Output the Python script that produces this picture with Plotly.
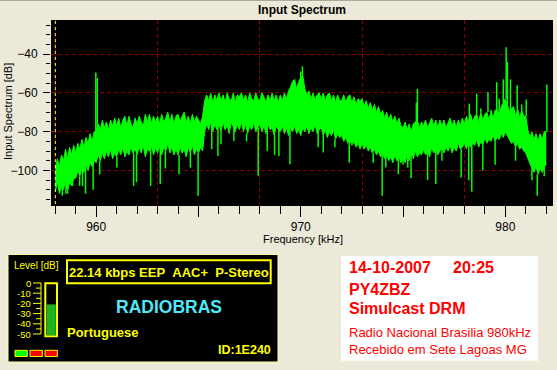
import plotly.graph_objects as go

# ---------------- data ----------------
freq_start_khz = 958.0
step_khz = 0.1

# upper edge of the spectrum band, every 0.1 kHz from 958.0 to 982.0 kHz
upper_db = [
    -99, -94, -98, -92, -95, -89, -94, -88, -92, -87,   # 958
    -91, -86, -89, -84, -88, -83, -86, -81, -85, -80,   # 959
    -80, -76, -79, -74, -78, -75, -79, -74, -77, -73,   # 960
    -77, -73, -78, -74, -72, -77, -72, -76, -78, -73,   # 961
    -76, -72, -75, -77, -71, -75, -71, -76, -72, -75,   # 962
    -72, -76, -71, -75, -73, -70, -75, -71, -76, -72,   # 963
    -71, -75, -72, -70, -75, -72, -76, -71, -75, -72,   # 964
    -74, -76, -72, -64, -61, -64, -60, -65, -61, -64,   # 965
    -60, -64, -61, -65, -60, -63, -64, -60, -65, -61,   # 966
    -62, -60, -64, -61, -65, -60, -63, -64, -60, -63,   # 967
    -64, -60, -62, -65, -61, -64, -60, -64, -61, -65,   # 968
    -61, -64, -60, -63, -59, -57, -54, -53, -58, -54,   # 969
    -52, -51, -58, -61, -59, -63, -60, -64, -61, -60,   # 970
    -63, -60, -64, -61, -60, -64, -61, -65, -61, -64,   # 971
    -64, -61, -65, -62, -61, -65, -62, -66, -63, -64,   # 972
    -63, -67, -64, -68, -65, -69, -66, -70, -67, -71,   # 973
    -69, -73, -70, -74, -71, -75, -72, -76, -73, -77,   # 974
    -78, -75, -79, -76, -80, -76, -75, -74, -78, -75,   # 975
    -77, -74, -78, -75, -73, -77, -74, -78, -74, -77,   # 976
    -74, -78, -75, -73, -77, -74, -78, -74, -77, -73,   # 977
    -76, -72, -75, -71, -75, -72, -71, -75, -70, -74,   # 978
    -71, -70, -74, -69, -73, -69, -68, -72, -67, -65,   # 979
    -63, -66, -70, -68, -67, -72, -68, -73, -69, -72,   # 980
    -72, -79, -83, -80, -84, -81, -85, -81, -84, -80,   # 981
    -80,                                                # 982
]

# lower edge of the dense band, every 0.1 kHz from 958.0 to 982.0 kHz
lower_db = [
    -111, -106, -112, -108, -110, -105, -111, -106, -108, -104,   # 958
    -104, -100, -103, -99, -101, -97, -100, -96, -98, -95,        # 959
    -96, -92, -95, -91, -94, -90, -93, -89, -94, -91,             # 960
    -93, -89, -92, -88, -93, -90, -92, -88, -91, -89,             # 961
    -92, -88, -91, -87, -93, -89, -90, -87, -92, -88,             # 962
    -91, -87, -92, -88, -90, -86, -91, -88, -92, -89,             # 963
    -92, -88, -91, -89, -93, -88, -91, -87, -92, -89,             # 964
    -91, -88, -90, -80, -76, -79, -75, -80, -76, -79,             # 965
    -76, -80, -75, -79, -77, -81, -75, -78, -80, -76,             # 966
    -79, -75, -80, -76, -81, -77, -79, -75, -80, -78,             # 967
    -76, -80, -77, -81, -76, -79, -78, -82, -77, -79,             # 968
    -80, -77, -81, -78, -82, -78, -80, -77, -81, -79,             # 969
    -82, -78, -80, -77, -81, -78, -80, -76, -81, -79,             # 970
    -78, -82, -79, -83, -80, -82, -79, -84, -81, -83,             # 971
    -82, -85, -83, -86, -84, -87, -85, -88, -86, -89,             # 972
    -86, -89, -87, -90, -88, -91, -89, -92, -90, -93,             # 973
    -91, -94, -92, -95, -93, -96, -92, -95, -93, -96,             # 974
    -94, -96, -92, -95, -91, -94, -90, -93, -91, -92,             # 975
    -89, -92, -90, -93, -88, -91, -89, -92, -90, -88,             # 976
    -91, -88, -90, -87, -91, -88, -90, -86, -89, -88,             # 977
    -86, -89, -85, -88, -86, -87, -84, -88, -85, -87,             # 978
    -83, -86, -84, -85, -82, -85, -83, -84, -81, -83,             # 979
    -80, -82, -84, -86, -85, -88, -86, -89, -88, -90,             # 980
    -91, -94, -97, -99, -101, -98, -102, -99, -101, -98,          # 981
    -97,                                                          # 982
]

# deep downward spikes
dip_khz = [958.34, 958.52, 958.60, 958.84, 959.19, 959.33, 959.48, 959.85, 960.17,
           961.01, 961.83, 961.97, 962.66, 963.13, 963.38, 964.05, 964.60, 964.98,
           965.65, 965.95, 966.10, 966.73, 967.35, 967.92, 968.36, 968.72, 968.93,
           969.47, 970.85, 971.10, 971.67, 972.37, 973.54, 973.98, 974.16, 974.77,
           975.00, 975.23, 975.39, 976.20, 976.60, 976.90, 977.84, 978.21, 978.36,
           978.90, 979.50, 980.50, 981.30, 981.56, 981.90]
dip_db = [-113, -112, -112, -105, -108, -108, -112, -110, -102,
          -98.5, -108, -106, -108, -107, -99, -102, -98.5, -113,
          -89, -92.5, -86.5, -84.8, -85, -102.7, -90, -92, -92.5,
          -96.8, -88, -90.7, -88, -96, -96, -113, -98.5, -102,
          -97, -98.5, -104, -105, -107, -95, -103.6, -105, -111,
          -100, -97, -95, -105, -113, -103]

# upward spikes / carriers
peak_khz = [959.98, 960.05, 969.70, 970.00, 970.08, 975.65, 975.70, 978.24, 978.60,
            978.80, 979.15, 979.58, 979.70, 979.90, 980.04, 980.10, 980.25, 980.58,
            980.80, 981.02, 982.03]
peak_db = [-49.5, -52.3, -53, -49, -46.3, -65, -58, -65.6, -60.3,
           -68, -59.5, -54.5, -63, -53, -36.4, -44, -53, -56,
           -66, -63.4, -55.7]

x_ticks_khz = [960, 965, 970, 975, 980]
x_tick_labels = ["960", "", "970", "", "980"]
y_ticks_db = [-100, -80, -60, -40]
marker_khz = 958.0

meter_ticks_db = [0, -10, -20, -30, -40, -50]
audio_level_db = -21
status_ok = [True, False, False]

chart_title = "Input Spectrum"
x_title = "Frequency [kHz]"
y_title = "Input Spectrum [dB]"
info_line = "22.14 kbps EEP\u00a0\u00a0AAC+\u00a0\u00a0P-Stereo"
station_label = "RADIOBRAS"
language_label = "Portuguese"
id_label = "ID:1E240"
level_label = "Level [dB]"
note_bold = ["14-10-2007\u00a0\u00a0\u00a0\u00a0\u00a020:25", "PY4ZBZ", "Simulcast DRM"]
note_plain = ["Radio Nacional Brasilia 980kHz", "Recebido em Sete Lagoas MG"]

# ---------------- styling / layout ----------------
W, H = 557, 370
L, R, T, B = 51, 4, 20, 166
PW = W - L - R
PH = H - T - B
BG = "#ECE9D8"
GREEN = "#00FF00"
GRID = "#900000"
YEL = "#FFFF00"
RED = "#FF0000"
FONT = "Liberation Sans, Arial, sans-serif"
XR = [957.79, 982.33]


def fx(x):
    return (x - L) / PW


def fy(y):
    return (H - B - y) / PH


freq_x = [round(freq_start_khz + step_khz * i, 2) for i in range(len(upper_db))]

fig = go.Figure()
fig.add_trace(go.Scatter(x=freq_x, y=lower_db, mode="lines",
                         line=dict(color=GREEN, width=1), hoverinfo="skip"))
fig.add_trace(go.Scatter(x=freq_x, y=upper_db, mode="lines",
                         line=dict(color=GREEN, width=1), fill="tonexty",
                         fillcolor=GREEN, hoverinfo="skip"))

dx, dy = [], []
for f, d in zip(dip_khz, dip_db):
    i = min(len(lower_db) - 1, int(round((f - freq_start_khz) / step_khz)))
    dx += [f, f, None]
    dy += [lower_db[i], d, None]
fig.add_trace(go.Scatter(x=dx, y=dy, mode="lines", line=dict(color=GREEN, width=1.5),
                         hoverinfo="skip"))

px_, py_ = [], []
for f, p in zip(peak_khz, peak_db):
    i = min(len(upper_db) - 1, int(round((f - freq_start_khz) / step_khz)))
    px_ += [f, f, None]
    py_ += [upper_db[i], p, None]
fig.add_trace(go.Scatter(x=px_, y=py_, mode="lines", line=dict(color=GREEN, width=1.5),
                         hoverinfo="skip"))

# dummy trace for the grid overlay axis
fig.add_trace(go.Scatter(x=[None], y=[None], xaxis="x2", hoverinfo="skip"))

shapes = []
# yellow marker line
shapes.append(dict(type="line", xref="x", yref="paper", x0=marker_khz, x1=marker_khz,
                   y0=0, y1=1, line=dict(color=YEL, width=1, dash="3px,3px")))
# window top border
shapes.append(dict(type="line", xref="paper", yref="paper", x0=fx(0), x1=fx(W),
                   y0=fy(0.5), y1=fy(0.5), line=dict(color="#ACA899", width=1)))
# left black panel
shapes.append(dict(type="rect", xref="paper", yref="paper", x0=fx(8), x1=fx(278),
                   y0=fy(362), y1=fy(254.5), fillcolor="black",
                   line=dict(color="#FFFFA0", width=1)))
# info box
shapes.append(dict(type="rect", xref="paper", yref="paper", x0=fx(67), x1=fx(270.7),
                   y0=fy(283.3), y1=fy(260.3), line=dict(color=YEL, width=2)))


def meter_y(v):
    return 283 + (-v) / 50 * (334 - 283)


# meter bar
shapes.append(dict(type="rect", xref="paper", yref="paper", x0=fx(45.3), x1=fx(57),
                   y0=fy(336.3), y1=fy(283.3), line=dict(color=YEL, width=2)))
shapes.append(dict(type="rect", xref="paper", yref="paper", x0=fx(46.6), x1=fx(55.8),
                   y0=fy(335.3), y1=fy(meter_y(audio_level_db)),
                   fillcolor="#1DB41D", line=dict(width=0)))
# meter scale
shapes.append(dict(type="line", xref="paper", yref="paper", x0=fx(41), x1=fx(41),
                   y0=fy(283), y1=fy(334), line=dict(color=YEL, width=1)))
for v in range(0, -55, -5):
    x0 = 33 if v % 10 == 0 else 36
    shapes.append(dict(type="line", xref="paper", yref="paper", x0=fx(x0), x1=fx(41),
                       y0=fy(meter_y(v)), y1=fy(meter_y(v)), line=dict(color=YEL, width=1)))
# status indicators
for k, ok in enumerate(status_ok):
    x0 = 15 + 15 * k
    shapes.append(dict(type="rect", xref="paper", yref="paper", x0=fx(x0), x1=fx(x0 + 12.3),
                       y0=fy(356.5), y1=fy(350.3), fillcolor=GREEN if ok else RED,
                       line=dict(color=YEL, width=1)))
# right white panel
shapes.append(dict(type="rect", xref="paper", yref="paper", x0=fx(341), x1=fx(538.3),
                   y0=fy(360.7), y1=fy(256), fillcolor="white", line=dict(width=0)))

ann = []


def add_text(text, x, y, size, color="black", xanchor="left", bold=False, angle=0):
    ann.append(dict(text=f"<b>{text}</b>" if bold else text, xref="paper", yref="paper",
                    x=fx(x), y=fy(y), xanchor=xanchor, yanchor="middle", showarrow=False,
                    textangle=angle, borderpad=0,
                    font=dict(family=FONT, size=size, color=color)))


add_text(y_title, 8, 112, 11, xanchor="center", angle=-90)
add_text(x_title, 303, 239, 11, xanchor="center")
add_text(level_label, 12.5, 265, 10, color=YEL)
for v in meter_ticks_db:
    add_text(str(v), 31.5, meter_y(v), 9.5, color=YEL, xanchor="right")
add_text(info_line, 169, 272, 13, color=YEL, xanchor="center", bold=True)
add_text(station_label, 169, 307, 17.5, color="#50E8F8", xanchor="center", bold=True)
add_text(language_label, 66, 332.5, 13, color=YEL, bold=True)
add_text(id_label, 272, 349.5, 12.5, color=YEL, xanchor="right", bold=True)
for t, yy in zip(note_bold, [267.5, 289, 308.5]):
    add_text(t, 348, yy, 16, color=RED, bold=True)
for t, yy in zip(note_plain, [332, 349.5]):
    add_text(t, 348, yy, 13, color=RED)

fig.update_layout(
    width=W, height=H, margin=dict(l=L, r=R, t=T, b=B, pad=0),
    paper_bgcolor=BG, plot_bgcolor="black", showlegend=False,
    font=dict(family=FONT, size=12, color="black"),
    title=dict(text=f"<b>{chart_title}</b>", x=0.5, xref="paper", xanchor="center",
               y=1 - 9.5 / H, yref="container", yanchor="middle",
               font=dict(family=FONT, size=12, color="black")),
    xaxis=dict(range=XR, tickmode="array", tickvals=x_ticks_khz, ticktext=x_tick_labels,
               ticks="outside", ticklen=11, tickwidth=1, tickcolor="black",
               minor=dict(tickmode="linear", tick0=958, dtick=1, ticks="outside", ticklen=8,
                          tickcolor="black", tickwidth=1, showgrid=False),
               showgrid=False, zeroline=False, showline=True, linecolor="black", linewidth=2,
               tickfont=dict(family=FONT, size=12, color="black"), fixedrange=True),
    xaxis2=dict(range=XR, overlaying="x", anchor="y", tickmode="linear", tick0=958, dtick=5,
                showgrid=True, gridcolor=GRID, griddash="4px,3px", gridwidth=1,
                showticklabels=False, ticks="", zeroline=False, showline=False,
                fixedrange=True),
    yaxis=dict(range=[-117.3, -22.4], tickmode="array", tickvals=y_ticks_db,
               ticks="outside", ticklen=7, tickwidth=1, tickcolor="black",
               minor=dict(tickmode="linear", tick0=-100, dtick=5, ticks="outside", ticklen=4,
                          tickcolor="black", tickwidth=1, showgrid=False),
               showgrid=True, gridcolor=GRID, griddash="4px,3px", gridwidth=1,
               zeroline=False, showline=False, ticklabelstandoff=3,
               tickfont=dict(family=FONT, size=12, color="black"), fixedrange=True),
    shapes=shapes, annotations=ann,
)

fig.write_html("out.html")
